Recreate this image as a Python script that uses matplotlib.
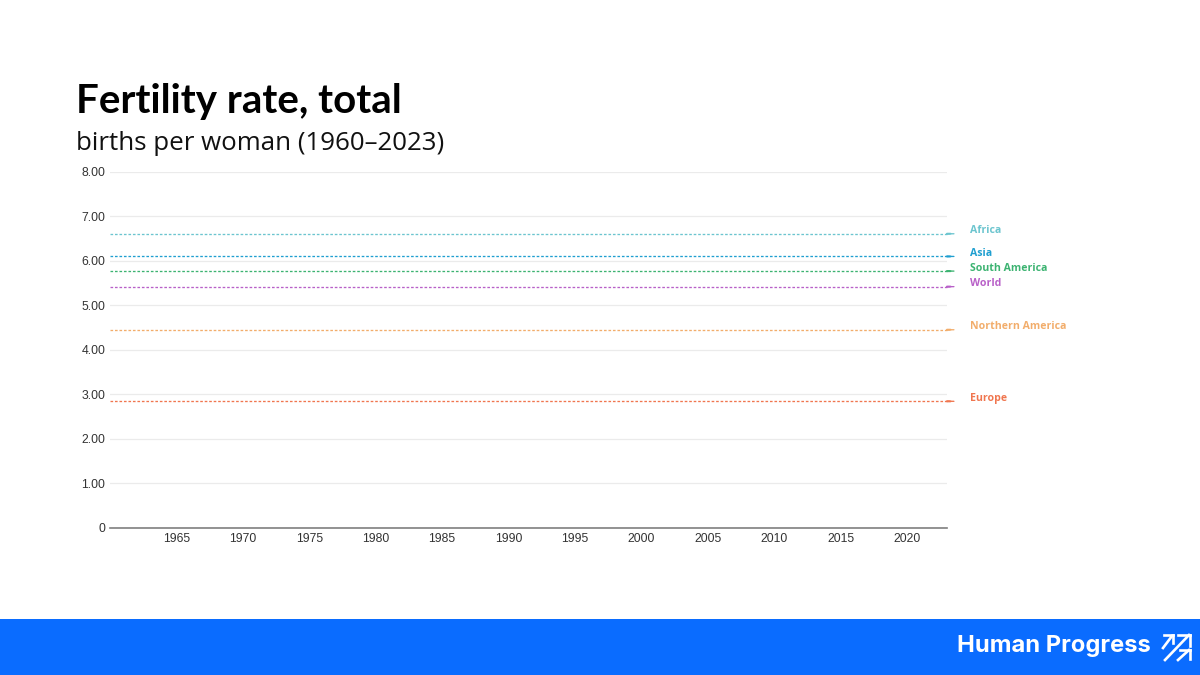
import matplotlib
matplotlib.use('Agg')
import matplotlib.pyplot as plt
from matplotlib.patches import Rectangle

# series values: every line sits flat from the first to the last year
years = [1960, 2023]
regions = ['Africa', 'Asia', 'South America', 'World', 'Northern America', 'Europe']
africa = [6.61, 6.61]
asia = [6.10, 6.10]
south_america = [5.77, 5.77]
world = [5.42, 5.42]
northern_america = [4.45, 4.45]
europe = [2.84, 2.84]
colors = ['#6cc5cf', '#1f9fd0', '#3cb371', '#b860c8', '#f2ad6b', '#f0764f']

x_ticks = list(range(1965, 2021, 5))
y_ticks = [0, 1, 2, 3, 4, 5, 6, 7, 8]
y_labels = ['0', '1.00', '2.00', '3.00', '4.00', '5.00', '6.00', '7.00', '8.00']

W, H = 1200, 675
dash = (0, (2, 1.4))
fig = plt.figure(figsize=(12, 6.75), dpi=100, facecolor='white')
ax = fig.add_axes([110 / W, 1 - 527.5 / H, 837 / W, 355.5 / H])

all_series = [africa, asia, south_america, world, northern_america, europe]
for name, vals, c in zip(regions, all_series, colors):
    ax.plot(years, vals, color=c, linewidth=0.95, linestyle=dash, zorder=3, clip_on=False)
    # dotted run-on past the last year, short solid stub, then the label
    ax.annotate('', xy=(years[-1], vals[-1]), xytext=(5, 0), textcoords='offset points',
                arrowprops=dict(arrowstyle='-', color=c, lw=0.95, linestyle=dash, shrinkA=0, shrinkB=0))
    ax.annotate('', xy=(years[-1], vals[-1]), xytext=(9.5, 0), textcoords='offset points',
                arrowprops=dict(arrowstyle='-', color=c, lw=1.5, shrinkA=-7, shrinkB=-7))
    ax.annotate(name, xy=(years[-1], vals[-1]), xytext=(16.5, 2), textcoords='offset points',
                color=c, fontsize=7.6, family='Open Sans', fontweight='bold', va='center', ha='left')

ax.set_xlim(1960, 2023)
ax.set_ylim(0, 8)
ax.set_xticks(x_ticks)
ax.set_yticks(y_ticks)
ax.set_yticklabels(y_labels)
ax.grid(axis='y', color='#ebebeb', linewidth=0.9)
ax.set_axisbelow(True)
ax.tick_params(length=0, labelsize=8.8, labelcolor='#333333', labelfontfamily='Liberation Sans')
ax.tick_params(axis='x', pad=4)
ax.tick_params(axis='y', pad=3.5)
for s in ['top', 'right', 'left']:
    ax.spines[s].set_visible(False)
ax.spines['bottom'].set_color('#7f7f7f')
ax.spines['bottom'].set_linewidth(1.2)

fig.text(76 / W, 1 - 101 / H, 'Fertility rate, total', fontsize=29, fontweight='bold',
         family='Lato', color='black', va='center', ha='left')
fig.text(76 / W, 1 - 144 / H, 'births per woman (1960–2023)', fontsize=18.6,
         family='Open Sans', color='#111111', va='center', ha='left')

# blue footer band with the logo
fig.add_artist(Rectangle((0, 0), 1, 56.5 / H, transform=fig.transFigure, facecolor='#0a6cff', edgecolor='none'))
fig.text(957 / W, 1 - 646 / H, 'Human Progress', fontsize=17.1, fontweight='bold', family='Inter',
         color='white', va='center', ha='left')


def logo_line(x0, y0, x1, y1):
    fig.add_artist(plt.Line2D([x0 / W, x1 / W], [1 - y0 / H, 1 - y1 / H], color='white',
                              linewidth=1.9, solid_capstyle='projecting', transform=fig.transFigure))


# three arrows of the logo glyph
logo_line(1163, 648, 1172, 636)
logo_line(1164, 635, 1173, 635)
logo_line(1173, 635, 1173, 643)
logo_line(1165, 660, 1189, 635)
logo_line(1178, 634.5, 1189.5, 634.5)
logo_line(1189.5, 634.5, 1189.5, 646)
logo_line(1178, 660, 1189, 650)
logo_line(1180, 650, 1189.5, 650)
logo_line(1189.5, 650, 1189.5, 659)

fig.savefig('out.png', dpi=100, facecolor='white')
